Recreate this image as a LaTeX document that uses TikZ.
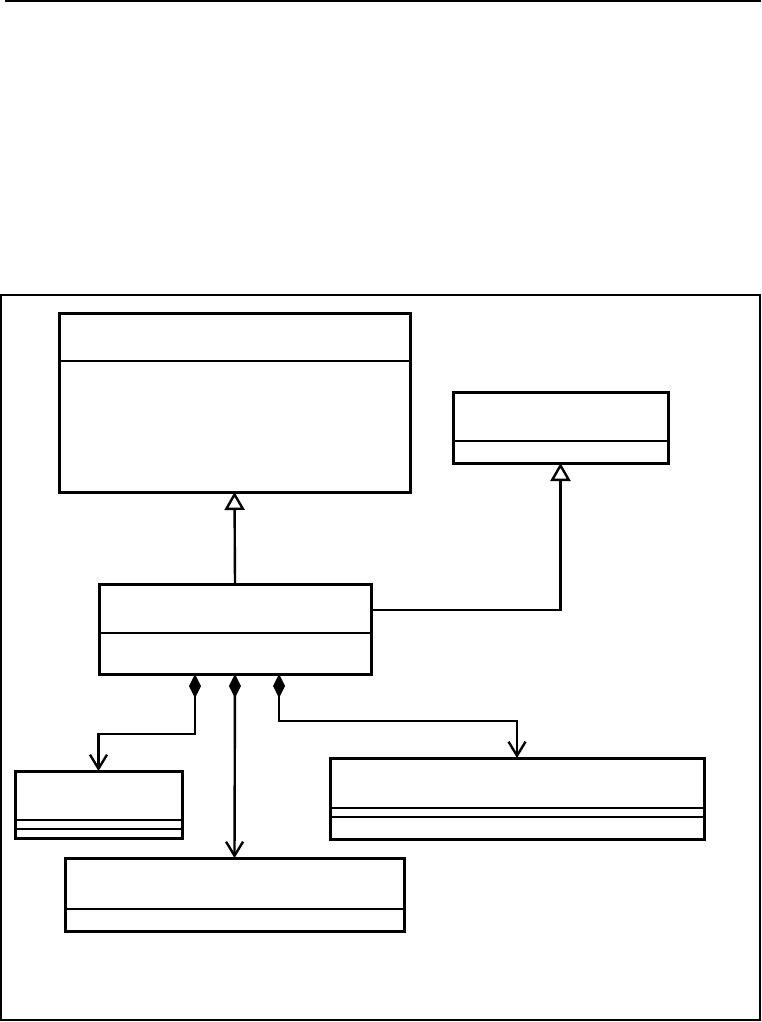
\documentclass[tikz,border=0pt]{standalone}
\usetikzlibrary{arrows.meta}
\begin{document}
\begin{tikzpicture}[x=1pt,y=-1pt,
  cls/.style={draw, line width=3pt, inner sep=0pt, outer sep=0pt, anchor=north west},
  div/.style={line width=2.6pt},
  gen/.style={line width=2.4pt, -{Triangle[open, length=18pt, width=20pt]}},
  comp/.style={line width=2.4pt, {Diamond[length=24pt, width=12pt]}-{Straight Barb[length=14pt, width=17pt]}}]
\useasboundingbox (0,0) rectangle (761,1022);
% top rule and frame
\coordinate (t1) at (5,1);
\coordinate (t2) at (761,1);
\draw[line width=1.8pt] (t1) -- (t2);
\coordinate (f1) at (1,295);
\coordinate (f2) at (760,1020);
\draw[line width=1.2pt] (f1) rectangle (f2);
% classes
\node[cls, minimum width=351pt, minimum height=179pt] (A) at (59,313) {};
\draw[div] ([yshift=-48pt]A.north west) -- ([yshift=-48pt]A.north east);
\node[cls, minimum width=215pt, minimum height=71pt] (R) at (453,392) {};
\draw[div] ([yshift=-49pt]R.north west) -- ([yshift=-49pt]R.north east);
\node[cls, minimum width=272pt, minimum height=90pt] (C) at (99,584) {};
\draw[div] ([yshift=-49pt]C.north west) -- ([yshift=-49pt]C.north east);
\node[cls, minimum width=167pt, minimum height=67pt] (L) at (15,771) {};
\draw[div] ([yshift=-49pt]L.north west) -- ([yshift=-49pt]L.north east);
\draw[div] ([yshift=-58pt]L.north west) -- ([yshift=-58pt]L.north east);
\node[cls, minimum width=339pt, minimum height=73pt] (M) at (65,858) {};
\draw[div] ([yshift=-51pt]M.north west) -- ([yshift=-51pt]M.north east);
\node[cls, minimum width=374pt, minimum height=81pt] (RB) at (330,758) {};
\draw[div] ([yshift=-50pt]RB.north west) -- ([yshift=-50pt]RB.north east);
\draw[div] ([yshift=-59pt]RB.north west) -- ([yshift=-59pt]RB.north east);
% generalizations
\draw[gen] (C.north) -- (A.south);
\coordinate (rb) at (0,610);
\draw[gen] (C.east |- rb) -| (R.south);
% compositions
\coordinate (k1) at (195,734);
\draw[comp] (k1 |- C.south) -- (k1) -| (L.north);
\draw[comp] (C.south) -- (M.north);
\coordinate (k3) at (279,721);
\draw[comp] (k3 |- C.south) -- (k3) -| (RB.north);
\end{tikzpicture}
\end{document}
